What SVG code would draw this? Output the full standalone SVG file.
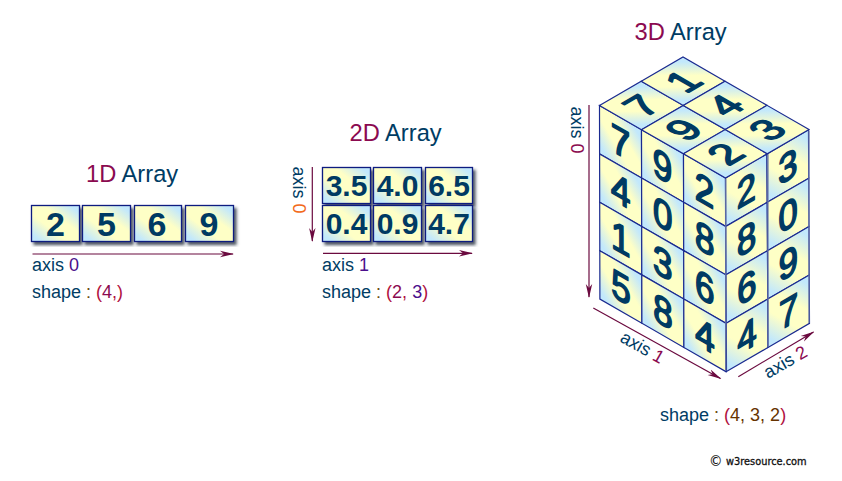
<svg xmlns="http://www.w3.org/2000/svg" width="842" height="481" viewBox="0 0 842 481">
<style>
text{font-family:"Liberation Sans",Arial,sans-serif}
.t{font-size:23.7px;fill:#003c64}
.l{font-size:18px;fill:#003c64}
.m{fill:#8b0a50}
.p{fill:#4b0f8c}
.o{fill:#f26a1b}
.b{fill:#6b4b10}
.r{fill:#b01040}
.br{fill:#663300}
.f{fill:url(#g);stroke:#0a1a80;stroke-width:1.3}
.s{filter:url(#sh)}
.c{fill:url(#g);stroke:#1a2a90;stroke-width:1.2;vector-effect:non-scaling-stroke}
.d1{font-size:34px;font-weight:bold;fill:#003a63;text-anchor:middle}
.d2{font-size:30px;font-weight:bold;fill:#003a63;text-anchor:middle}
.d3{font-size:40px;fill:#003a63;stroke:#003a63;stroke-width:1.7;stroke-linejoin:round;text-anchor:middle}
.a{fill:none;stroke:#6b0a3f;stroke-width:1.2;marker-end:url(#ah)}
.e{fill:none;stroke:#6a78a8;stroke-width:1.2}
.cr{font-family:"DejaVu Sans",sans-serif;font-size:9.8px;fill:#111;stroke:#111;stroke-width:.3}
</style>
<defs>
<linearGradient id="g" x1="0" y1="1" x2="1" y2="0">
<stop offset="0.1" stop-color="#c2e8fc"/>
<stop offset="0.38" stop-color="#feffc6"/>
<stop offset="0.62" stop-color="#feffc6"/>
<stop offset="0.9" stop-color="#c2e8fc"/>
</linearGradient>
<filter id="sh" x="-15%" y="-15%" width="130%" height="130%">
<feDropShadow dx="2.5" dy="3" stdDeviation="1.4" flood-color="#222a3a" flood-opacity="0.8"/>
</filter>
<marker id="ah" markerUnits="userSpaceOnUse" markerWidth="14" markerHeight="8" viewBox="0 0 14 8" refX="13" refY="4" orient="auto">
<path d="M14,4 L0,0.8 L4,4 L0,7.2 Z" fill="#6b0a3f"/>
</marker>
</defs>
<rect width="842" height="481" fill="#fff"/>

<g id="title-1d"><text class="t" x="86" y="182"><tspan class="m">1D</tspan> Array</text></g>
<g id="title-2d"><text class="t" x="349.500" y="141"><tspan class="m">2D</tspan> Array</text></g>
<g id="title-3d"><text class="t" x="634.500" y="40"><tspan class="m">3D</tspan> Array</text></g>

<g id="array-1d">
<g id="a1-0"><rect class="f s" x="31.500" y="205.500" width="48" height="36"/><text class="d1" x="55.500" y="235.500">2</text></g>
<g id="a1-1"><rect class="f s" x="82.500" y="205.500" width="48" height="36"/><text class="d1" x="106.500" y="235.500">5</text></g>
<g id="a1-2"><rect class="f s" x="134.500" y="205.500" width="47" height="36"/><text class="d1" x="157" y="235.500">6</text></g>
<g id="a1-3"><rect class="f s" x="185.500" y="205.500" width="48" height="36"/><text class="d1" x="209" y="235.500">9</text></g>
</g>

<g id="array-2d">
<g id="a2-00"><rect class="f s" x="322.500" y="167.500" width="48" height="36"/><text class="d2" x="346.500" y="196">3.5</text></g>
<g id="a2-01"><rect class="f s" x="373.500" y="167.500" width="48" height="36"/><text class="d2" x="397.500" y="196">4.0</text></g>
<g id="a2-02"><rect class="f s" x="425.500" y="167.500" width="47" height="36"/><text class="d2" x="449" y="196">6.5</text></g>
<g id="a2-10"><rect class="f s" x="322.500" y="205.500" width="48" height="36"/><text class="d2" x="346.500" y="234">0.4</text></g>
<g id="a2-11"><rect class="f s" x="373.500" y="205.500" width="48" height="36"/><text class="d2" x="397.500" y="234">0.9</text></g>
<g id="a2-12"><rect class="f s" x="425.500" y="205.500" width="47" height="36"/><text class="d2" x="449" y="234">4.7</text></g>
</g>

<g id="array-3d">
<g id="left-face">
<g id="l00" transform="matrix(.875 .5035 .002 1.008 599.5 105.5)"><rect class="c" width="48" height="48"/><text class="d3" x="24" y="38">7</text></g>
<g id="l01" transform="matrix(.875 .5035 .002 1.008 599.6 153.9)"><rect class="c" width="48" height="48"/><text class="d3" x="24" y="38">4</text></g>
<g id="l02" transform="matrix(.875 .5035 .002 1.008 599.7 202.3)"><rect class="c" width="48" height="48"/><text class="d3" x="24" y="38">1</text></g>
<g id="l03" transform="matrix(.875 .5035 .002 1.008 599.8 250.7)"><rect class="c" width="48" height="48"/><text class="d3" x="24" y="38">5</text></g>
<g id="l10" transform="matrix(.875 .5035 .002 1.008 641.5 129.67)"><rect class="c" width="48" height="48"/><text class="d3" x="24" y="38">9</text></g>
<g id="l11" transform="matrix(.875 .5035 .002 1.008 641.6 178.07)"><rect class="c" width="48" height="48"/><text class="d3" x="24" y="38">0</text></g>
<g id="l12" transform="matrix(.875 .5035 .002 1.008 641.7 226.47)"><rect class="c" width="48" height="48"/><text class="d3" x="24" y="38">3</text></g>
<g id="l13" transform="matrix(.875 .5035 .002 1.008 641.8 274.87)"><rect class="c" width="48" height="48"/><text class="d3" x="24" y="38">8</text></g>
<g id="l20" transform="matrix(.875 .5035 .002 1.008 683.5 153.84)"><rect class="c" width="48" height="48"/><text class="d3" x="24" y="38">2</text></g>
<g id="l21" transform="matrix(.875 .5035 .002 1.008 683.6 202.24)"><rect class="c" width="48" height="48"/><text class="d3" x="24" y="38">8</text></g>
<g id="l22" transform="matrix(.875 .5035 .002 1.008 683.7 250.64)"><rect class="c" width="48" height="48"/><text class="d3" x="24" y="38">6</text></g>
<g id="l23" transform="matrix(.875 .5035 .002 1.008 683.8 299.04)"><rect class="c" width="48" height="48"/><text class="d3" x="24" y="38">4</text></g>
</g>
<g id="right-face">
<g id="r00" transform="matrix(.8646 -.502 .005 1.008 725.5 178)"><rect class="c" width="48" height="48"/><text class="d3" x="24" y="38">2</text></g>
<g id="r01" transform="matrix(.8646 -.502 .005 1.008 725.75 226.4)"><rect class="c" width="48" height="48"/><text class="d3" x="24" y="38">8</text></g>
<g id="r02" transform="matrix(.8646 -.502 .005 1.008 726 274.8)"><rect class="c" width="48" height="48"/><text class="d3" x="24" y="38">6</text></g>
<g id="r03" transform="matrix(.8646 -.502 .005 1.008 726.25 323.2)"><rect class="c" width="48" height="48"/><text class="d3" x="24" y="38">4</text></g>
<g id="r10" transform="matrix(.8646 -.502 .005 1.008 767 153.9)"><rect class="c" width="48" height="48"/><text class="d3" x="24" y="38">3</text></g>
<g id="r11" transform="matrix(.8646 -.502 .005 1.008 767.25 202.3)"><rect class="c" width="48" height="48"/><text class="d3" x="24" y="38">0</text></g>
<g id="r12" transform="matrix(.8646 -.502 .005 1.008 767.5 250.7)"><rect class="c" width="48" height="48"/><text class="d3" x="24" y="38">9</text></g>
<g id="r13" transform="matrix(.8646 -.502 .005 1.008 767.75 299.1)"><rect class="c" width="48" height="48"/><text class="d3" x="24" y="38">7</text></g>
<path class="e" d="M725.800 178.500V371M768 154V347M809 130.500V323"/>
</g>
<g id="top-face">
<g id="t00" transform="matrix(.8698 -.5052 .875 .5035 599.5 105.5)"><rect class="c" width="48" height="48"/><text class="d3" x="24" y="38">7</text></g>
<g id="t01" transform="matrix(.8698 -.5052 .875 .5035 641.25 81.25)"><rect class="c" width="48" height="48"/><text class="d3" x="24" y="38">1</text></g>
<g id="t10" transform="matrix(.8698 -.5052 .875 .5035 641.5 129.67)"><rect class="c" width="48" height="48"/><text class="d3" x="24" y="38">9</text></g>
<g id="t11" transform="matrix(.8698 -.5052 .875 .5035 683.25 105.42)"><rect class="c" width="48" height="48"/><text class="d3" x="24" y="38">4</text></g>
<g id="t20" transform="matrix(.8698 -.5052 .875 .5035 683.5 153.84)"><rect class="c" width="48" height="48"/><text class="d3" x="24" y="38">2</text></g>
<g id="t21" transform="matrix(.8698 -.5052 .875 .5035 725.25 129.59)"><rect class="c" width="48" height="48"/><text class="d3" x="24" y="38">3</text></g>
</g>
</g>

<g id="connectors">
<line class="a" x1="32.500" y1="254" x2="233" y2="254"/>
<line class="a" x1="323" y1="253.300" x2="472" y2="253.300"/>
<line class="a" x1="312.300" y1="167" x2="312.300" y2="241"/>
<line class="a" x1="589" y1="105" x2="589" y2="297"/>
<line class="a" x1="593.300" y1="308" x2="720.500" y2="378.500"/>
<line class="a" x1="738.300" y1="376.700" x2="813.500" y2="332"/>
</g>

<g id="labels-1d">
<text class="l" x="32" y="270.500">axis <tspan class="p">0</tspan></text>
<text class="l" x="32" y="298">shape <tspan class="b">:</tspan> <tspan class="r">(</tspan><tspan class="m">4</tspan><tspan class="r">,)</tspan></text>
</g>
<g id="labels-2d">
<text class="l" x="322" y="270.500">axis <tspan class="p">1</tspan></text>
<text class="l" x="322" y="298">shape <tspan class="b">:</tspan> <tspan class="r">(</tspan><tspan class="m">2</tspan><tspan class="r">,</tspan> <tspan class="p">3</tspan><tspan class="r">)</tspan></text>
<text class="l" transform="translate(293 166.500) rotate(90)">axis <tspan class="o">0</tspan></text>
</g>
<g id="labels-3d">
<text class="l" transform="translate(571 106.500) rotate(90)">axis <tspan class="m">0</tspan></text>
<text class="l" transform="translate(619 341) rotate(29.500)">axis <tspan class="m">1</tspan></text>
<text class="l" transform="translate(768 379) rotate(-30)">axis <tspan class="m">2</tspan></text>
<text class="l" x="660" y="421">shape <tspan class="b">:</tspan> <tspan class="r">(</tspan><tspan class="br">4, 3, 2</tspan><tspan class="r">)</tspan></text>
</g>
<g id="credit"><text class="cr" x="709" y="466"><tspan style="font-size:13.500px;stroke-width:.1">©</tspan><tspan x="726" y="465">w3resource.com</tspan></text></g>
</svg>
